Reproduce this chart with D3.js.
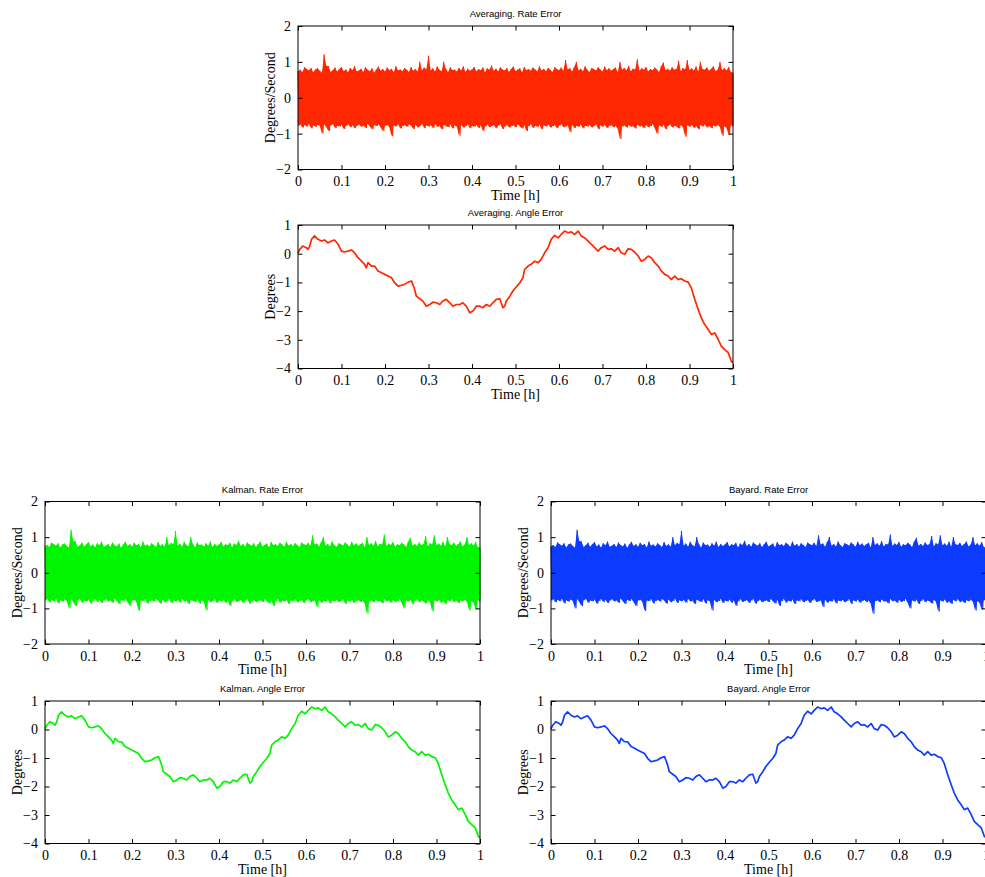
<!DOCTYPE html>
<html lang="en">
<head>
    <meta charset="UTF-8">
    <title>Rate and angle error</title>
    <style>
        body {
            margin: 0;
            background: white;
        }
        .tick-label {
            font-family: "Liberation Serif", "DejaVu Serif", serif;
            font-size: 14px;
            fill: black;
        }
        .axis-title {
            font-family: "Liberation Serif", "DejaVu Serif", serif;
            font-size: 14px;
            fill: black;
        }
        .panel-title {
            font-family: "Liberation Sans", Arial, sans-serif;
            font-size: 9.5px;
            fill: black;
        }
    </style>
    <script src="https://d3js.org/d3.v7.min.js"></script>
</head>
<body>
    <div id="chart"></div>

    <script>
        // rate error envelope, one pair of peaks every 0.005 h
        const rateStep = 0.005;
        const rateHi = [
            .74,.78,.72,.85,.80,.76,.83,.71,.79,.82,
            .75,.70,1.21,.89,.88,.72,.77,.84,.73,.80,
            .86,.74,.79,.71,.83,.77,.88,.73,.76,.81,
            .72,.85,.78,.74,.82,.70,.79,.87,.75,.80,
            .73,.84,.77,.81,.71,.88,.76,.79,.74,.83,
            .78,.72,.86,.75,.80,.73,1.00,.77,.84,.79,
            1.17,.76,.82,.73,.87,.78,.74,1.00,.80,.71,
            .85,.77,.79,.73,.83,.76,.88,.72,.81,.75,
            .79,.86,.74,.80,.77,.84,.71,.82,.78,.90,
            .75,.81,.73,.85,.79,.76,.83,.72,.80,.87,
            .74,.78,.82,.71,.86,.77,.80,.75,.84,.79,
            .73,.88,.76,.81,.74,.83,.78,.72,.85,.80,
            .77,.84,.75,1.05,.79,.82,.73,.86,1.00,.76,
            .81,.74,.88,.78,.72,.83,.80,.76,.85,.79,
            .73,.87,.77,.82,.75,.80,.84,.71,1.00,.78,
            .83,.76,.89,.74,.81,.79,1.07,.75,.82,.78,
            .86,.73,.80,.77,.84,.79,.72,.88,.98,.76,
            .81,.75,.85,.78,.80,1.03,.74,.83,.79,1.05,
            .77,.82,.76,.87,.73,1.00,.80,.78,.84,.75,
            .81,.88,.74,.79,1.00,.77,.83,.76,.86,.72,
            .70
        ];
        const rateLo = [
            -.78,-.74,-.83,-.76,-.80,-.72,-.86,-.77,-.81,-.75,
            -.79,-1.00,-.74,-.82,-.93,-.77,-.73,-.84,-.78,-.80,
            -.75,-.87,-.79,-.73,-.82,-.76,-.85,-.78,-.74,-.81,
            -.77,-.84,-.72,-.80,-.88,-.76,-.79,-.74,-.83,-.93,
            -.78,-.75,-.82,-1.07,-.77,-.80,-.73,-.86,-.79,-.76,
            -.81,-.74,-.78,-.87,-.75,-.83,-.79,-.72,-.85,-.77,
            -.80,-.76,-.84,-.73,-.81,-.78,-.88,-.75,-.79,-.82,
            -.74,-.86,-.77,-.80,-1.06,-.76,-.83,-.79,-.73,-.85,
            -.78,-.81,-.75,-.84,-.77,-.93,-.80,-.74,-.82,-.79,
            -.76,-.85,-.78,-.73,-.87,-.80,-.75,-.83,-.79,-.77,
            -.82,-.74,-.80,-.86,-.76,-.93,-.79,-.73,-.84,-.78,
            -.81,-.75,-.88,-.77,-.80,-.74,-.83,-.79,-.76,-.85,
            -.78,-.73,-.82,-.80,-.77,-.96,-.75,-.84,-.79,-.81,
            -.74,-.86,-.78,-.80,-.76,-.83,-.79,-.73,-.88,-.77,
            -.81,-.75,-.84,-.79,-.76,-.82,-.78,-.87,-1.15,-.80,
            -.77,-.83,-.75,-.81,-.79,-.86,-.74,-.80,-.78,-.84,
            -.76,-.82,-.79,-.73,-.85,-1.00,-.77,-.81,-.75,-.88,
            -.79,-.74,-.83,-.78,-.80,-.86,-.76,-.82,-1.09,-.77,
            -.81,-.75,-.84,-.79,-.88,-.76,-.80,-.74,-.83,-.78,
            -.85,-.77,-.80,-.75,-.82,-1.06,-.79,-.84,-1.03,-.76,
            -.80
        ];

        // angle error, time [h] and degrees
        const angleT = [
            0,.004,.011,.019,.023,.027,.031,.038,.046,.054,.061,.069,.077,.084,.092,
            .1,.107,.115,.123,.13,.138,.146,.153,.157,.161,.169,.176,.184,.192,.199,
            .207,.215,.222,.23,.238,.245,.253,.261,.264,.268,.272,.28,.287,.295,.303,
            .31,.318,.326,.333,.341,.349,.356,.364,.372,.379,.387,.395,.402,.41,.418,
            .425,.433,.441,.448,.456,.464,.467,.471,.475,.479,.487,.494,.502,.51,.517,
            .521,.529,.536,.544,.552,.559,.567,.575,.582,.59,.598,.605,.613,.621,.628,
            .636,.644,.651,.659,.667,.674,.682,.69,.697,.705,.713,.72,.728,.736,.743,
            .751,.759,.766,.774,.782,.789,.797,.805,.812,.82,.828,.835,.843,.851,.858,
            .866,.874,.881,.889,.897,.904,.912,.92,.927,.935,.943,.95,.958,.966,.973,
            .981,.989,.996,1
        ];
        const angleVal = [
            .02,.15,.27,.21,.15,.27,.5,.62,.5,.44,.48,.38,.44,.48,.33,
            .09,.06,.09,.13,.03,-.14,-.26,-.37,-.49,-.31,-.43,-.43,-.6,-.66,-.72,
            -.78,-.84,-1.01,-1.13,-1.1,-1.07,-.99,-.95,-1.07,-1.24,-1.48,-1.57,-1.65,-1.83,-1.77,
            -1.69,-1.71,-1.77,-1.65,-1.59,-1.71,-1.83,-1.77,-1.77,-1.71,-1.83,-2.06,-2.0,-1.83,-1.83,
            -1.88,-1.77,-1.83,-1.71,-1.59,-1.57,-1.71,-1.88,-1.83,-1.65,-1.48,-1.3,-1.15,-1.01,-.84,
            -.55,-.43,-.37,-.26,-.31,-.2,.03,.21,.5,.64,.55,.67,.79,.73,.76,
            .67,.79,.62,.55,.44,.33,.21,.09,.21,.27,.15,.17,.09,.21,.03,
            -.02,.17,.15,.06,-.08,-.26,-.2,-.08,-.14,-.31,-.43,-.6,-.72,-.78,-.9,
            -.78,-.9,-.87,-.95,-.99,-1.19,-1.59,-1.94,-2.23,-2.47,-2.64,-2.81,-2.76,-2.99,-3.22,
            -3.34,-3.45,-3.74,-3.8
        ];

        const xTicks = [0, 0.1, 0.2, 0.3, 0.4, 0.5, 0.6, 0.7, 0.8, 0.9, 1];
        const rateTicks = [-2, -1, 0, 1, 2];
        const angleTicks = [-4, -3, -2, -1, 0, 1];

        const panels = [
            { method: 'Averaging', color: '#ff2800', left: 298, rateTop: 26, angleTop: 225, h: 143.5 },
            { method: 'Kalman', color: '#00f500', left: 45, rateTop: 501.5, angleTop: 701, h: 142.5 },
            { method: 'Bayard', color: '#0d3cff', left: 551, rateTop: 501.5, angleTop: 701, h: 142.5 }
        ];

        const width = 985;
        const height = 877;
        const plotW = 435;

        const svg = d3.select('#chart')
            .append('svg')
            .attr('width', width)
            .attr('height', height);

        // zigzag through the peaks so the band looks like dense noise
        const ratePoints = [];
        rateHi.forEach((v, i) => {
            ratePoints.push([i * rateStep, v]);
            if (i < rateHi.length - 1) ratePoints.push([i * rateStep + rateStep / 2, rateLo[i]]);
            else ratePoints.push([i * rateStep, rateLo[i]]);
        });
        const rateBand = rateHi.map((v, i) => ({ t: i * rateStep, hi: v, lo: rateLo[i] }));
        const anglePoints = angleT.map((t, i) => [t, angleVal[i]]);

        function drawAxes(g, x, y, yTicks, h, title, ylabel) {
            const tickLen = 4.5;
            const fmtX = d => String(+d.toFixed(1));
            const fmtY = d3.format('');

            // ticks pointing inward on all sides
            g.append('g')
                .attr('transform', `translate(0,${h})`)
                .call(d3.axisBottom(x).tickValues(xTicks).tickSize(-tickLen).tickPadding(7).tickFormat(fmtX))
                .call(a => a.select('.domain').remove());
            g.append('g')
                .call(d3.axisTop(x).tickValues(xTicks).tickSize(-tickLen).tickFormat(''))
                .call(a => a.select('.domain').remove());
            g.append('g')
                .call(d3.axisLeft(y).tickValues(yTicks).tickSize(-tickLen).tickPadding(7).tickFormat(fmtY))
                .call(a => a.select('.domain').remove());
            g.append('g')
                .attr('transform', `translate(${plotW},0)`)
                .call(d3.axisRight(y).tickValues(yTicks).tickSize(-tickLen).tickFormat(''))
                .call(a => a.select('.domain').remove());

            g.selectAll('.tick line').attr('stroke', 'black').attr('stroke-width', 1);
            g.selectAll('.tick text')
                .attr('class', 'tick-label')
                .attr('font-family', null)
                .attr('font-size', null);

            g.append('rect')
                .attr('width', plotW)
                .attr('height', h)
                .attr('fill', 'none')
                .attr('stroke', 'black')
                .attr('stroke-width', 1);

            g.append('text')
                .attr('class', 'panel-title')
                .attr('x', plotW / 2)
                .attr('y', -9)
                .attr('text-anchor', 'middle')
                .text(title);

            g.append('text')
                .attr('class', 'axis-title')
                .attr('x', plotW / 2)
                .attr('y', h + 30)
                .attr('text-anchor', 'middle')
                .text('Time [h]');

            g.append('text')
                .attr('class', 'axis-title')
                .attr('transform', `translate(-23,${h / 2}) rotate(-90)`)
                .attr('text-anchor', 'middle')
                .text(ylabel);
        }

        panels.forEach(p => {
            const x = d3.scaleLinear().domain([0, 1]).range([0, plotW]);

            // rate error
            const gr = svg.append('g').attr('transform', `translate(${p.left},${p.rateTop})`);
            const yr = d3.scaleLinear().domain([-2, 2]).range([p.h, 0]);
            gr.append('path')
                .datum(rateBand)
                .attr('fill', p.color)
                .attr('d', d3.area().x(d => x(d.t)).y0(d => yr(d.lo)).y1(d => yr(d.hi)));
            gr.append('path')
                .datum(ratePoints)
                .attr('fill', 'none')
                .attr('stroke', p.color)
                .attr('stroke-width', 1.1)
                .attr('d', d3.line().x(d => x(d[0])).y(d => yr(d[1])));
            drawAxes(gr, x, yr, rateTicks, p.h, `${p.method}. Rate Error`, 'Degrees/Second');

            // angle error
            const ga = svg.append('g').attr('transform', `translate(${p.left},${p.angleTop})`);
            const ya = d3.scaleLinear().domain([-4, 1]).range([p.h, 0]);
            ga.append('path')
                .datum(anglePoints)
                .attr('fill', 'none')
                .attr('stroke', p.color)
                .attr('stroke-width', 1.7)
                .attr('stroke-linejoin', 'round')
                .attr('d', d3.line().x(d => x(d[0])).y(d => ya(d[1])));
            drawAxes(ga, x, ya, angleTicks, p.h, `${p.method}. Angle Error`, 'Degrees');
        });
    </script>
</body>
</html>
